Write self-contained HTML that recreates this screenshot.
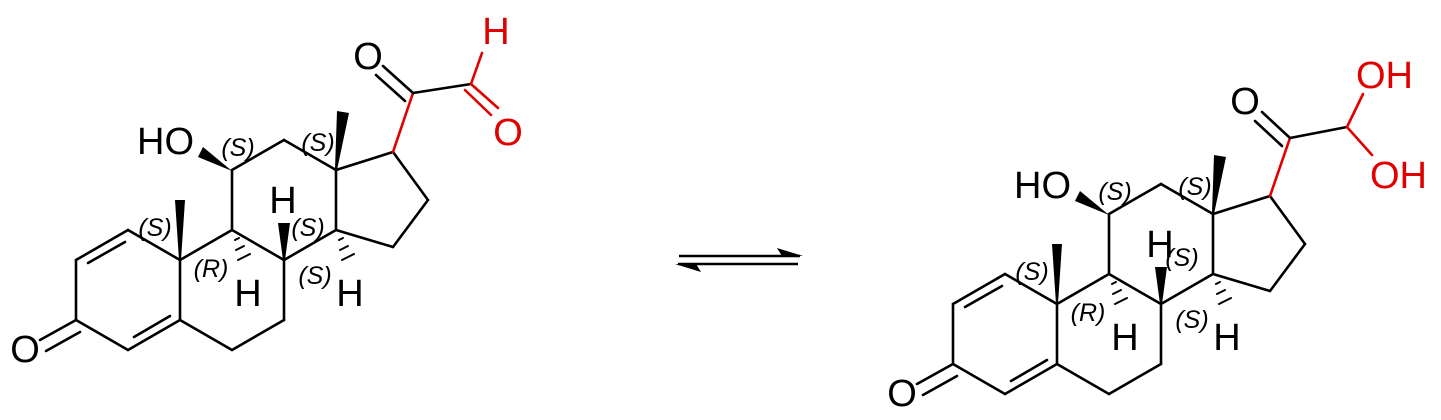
<!DOCTYPE html>
<html><head><meta charset="utf-8"><style>
html,body{margin:0;padding:0;background:#fff;}
svg{display:block;}
text{font-family:"Liberation Sans",Arial,sans-serif;}
.a{font-size:38px;}
.s{font-size:25px;font-style:italic;}
</style></head><body>
<svg width="1441" height="420" viewBox="0 0 1441 420" xmlns="http://www.w3.org/2000/svg">
<defs>
<g id="core" stroke="#000" stroke-width="2.6" fill="none" stroke-linecap="round">
  <line x1="180" y1="260" x2="180" y2="320"/>
  <line x1="180" y1="320" x2="128" y2="350"/>
  <line x1="134" y1="337" x2="170" y2="316"/>
  <line x1="128" y1="350" x2="76" y2="320"/>
  <line x1="76" y1="320" x2="76" y2="260"/>
  <line x1="76" y1="260" x2="128" y2="230"/>
  <line x1="88" y1="263" x2="125" y2="242"/>
  <line x1="128" y1="230" x2="180" y2="260"/>
  <line x1="76" y1="320" x2="40" y2="340"/>
  <line x1="80" y1="332" x2="46" y2="351"/>
  <line x1="180" y1="260" x2="232" y2="230"/>
  <line x1="232" y1="230" x2="284" y2="260"/>
  <line x1="284" y1="260" x2="284" y2="320"/>
  <line x1="284" y1="320" x2="232" y2="350"/>
  <line x1="232" y1="350" x2="180" y2="320"/>
  <line x1="232" y1="230" x2="232" y2="170"/>
  <line x1="232" y1="170" x2="284" y2="140"/>
  <line x1="284" y1="140" x2="336" y2="170"/>
  <line x1="336" y1="170" x2="336" y2="230"/>
  <line x1="336" y1="230" x2="284" y2="260"/>
  <line x1="336" y1="170" x2="393" y2="152"/>
  <line x1="393" y1="152" x2="428" y2="200"/>
  <line x1="428" y1="200" x2="393" y2="247"/>
  <line x1="393" y1="247" x2="336" y2="230"/>
  <line x1="235" y1="240" x2="239" y2="238" stroke-width="2"/>
  <line x1="236" y1="250" x2="244" y2="246" stroke-width="2"/>
  <line x1="238" y1="260" x2="250" y2="254" stroke-width="2"/>
  <line x1="339" y1="240" x2="343" y2="238" stroke-width="2"/>
  <line x1="340" y1="250" x2="348" y2="246" stroke-width="2"/>
  <line x1="342" y1="260" x2="354" y2="254" stroke-width="2"/>
</g>
<g id="corefill" fill="#000">
  <polygon points="179,260 181,260 185,200 175,200"/>
  <polygon points="335,169 337,170 349,113 337,111"/>
  <polygon points="232,171 203,147 198,157"/>
  <polygon points="283,260 285,260 290,223 278,223"/>
</g>
<g id="corelabels" fill="#000">
  <text class="a" x="25" y="362" text-anchor="middle">O</text>
  <text class="a" x="194" y="154" text-anchor="end">HO</text>
  <text class="a" x="283" y="213" text-anchor="middle">H</text>
  <text class="a" x="248" y="306" text-anchor="middle">H</text>
  <text class="a" x="350" y="306" text-anchor="middle">H</text>
  <text class="s" x="238" y="156" text-anchor="middle">(S)</text>
  <text class="s" x="318" y="151" text-anchor="middle">(S)</text>
  <text class="s" x="155" y="236" text-anchor="middle">(S)</text>
  <text class="s" x="211" y="277" text-anchor="middle">(R)</text>
  <text class="s" x="315" y="284" text-anchor="middle">(S)</text>
</g>
</defs>

<use href="#core"/>
<use href="#corefill"/>
<use href="#corelabels"/>
<text class="s" x="308" y="236" text-anchor="middle">(S)</text>
<g stroke-width="2.6" stroke-linecap="round" fill="none">
  <line x1="393" y1="152" x2="413" y2="93" stroke="#e00000"/>
  <line x1="413" y1="93" x2="471" y2="84" stroke="#000"/>
  <line x1="413" y1="93" x2="383" y2="66" stroke="#000"/>
  <line x1="405" y1="101" x2="376" y2="75" stroke="#000"/>
  <line x1="471" y1="84" x2="482" y2="53" stroke="#e00000"/>
  <line x1="471" y1="84" x2="498" y2="108" stroke="#e00000"/>
  <line x1="465" y1="90" x2="491" y2="115" stroke="#e00000"/>
</g>
<text class="a" x="368" y="69" text-anchor="middle" fill="#000">O</text>
<text class="a" x="496" y="44" text-anchor="middle" fill="#e00000">H</text>
<text class="a" x="508" y="145" text-anchor="middle" fill="#e00000">O</text>

<g stroke="#000" stroke-width="2.6">
  <line x1="679" y1="256" x2="800" y2="256"/>
  <line x1="678" y1="264" x2="798" y2="264"/>
</g>
<polygon points="803,256 777,248 782,256" fill="#000"/>
<polygon points="675,264 701,272 696,264" fill="#000"/>

<g transform="translate(877,44)">
  <use href="#core"/>
  <use href="#corefill"/>
  <use href="#corelabels"/>
</g>
<text class="s" x="1182" y="266" text-anchor="middle">(S)</text>
<g stroke-width="2.6" stroke-linecap="round" fill="none">
  <line x1="1270" y1="196" x2="1290" y2="138" stroke="#e00000"/>
  <line x1="1290" y1="138" x2="1347" y2="127" stroke="#000"/>
  <line x1="1290" y1="138" x2="1262" y2="112" stroke="#000"/>
  <line x1="1282" y1="146" x2="1255" y2="121" stroke="#000"/>
  <line x1="1347" y1="127" x2="1363" y2="94" stroke="#e00000"/>
  <line x1="1347" y1="127" x2="1372" y2="155" stroke="#e00000"/>
</g>
<text class="a" x="1245" y="114" text-anchor="middle" fill="#000">O</text>
<text class="a" x="1356" y="88" fill="#e00000">OH</text>
<text class="a" x="1370" y="188" fill="#e00000">OH</text>
</svg>
</body></html>
